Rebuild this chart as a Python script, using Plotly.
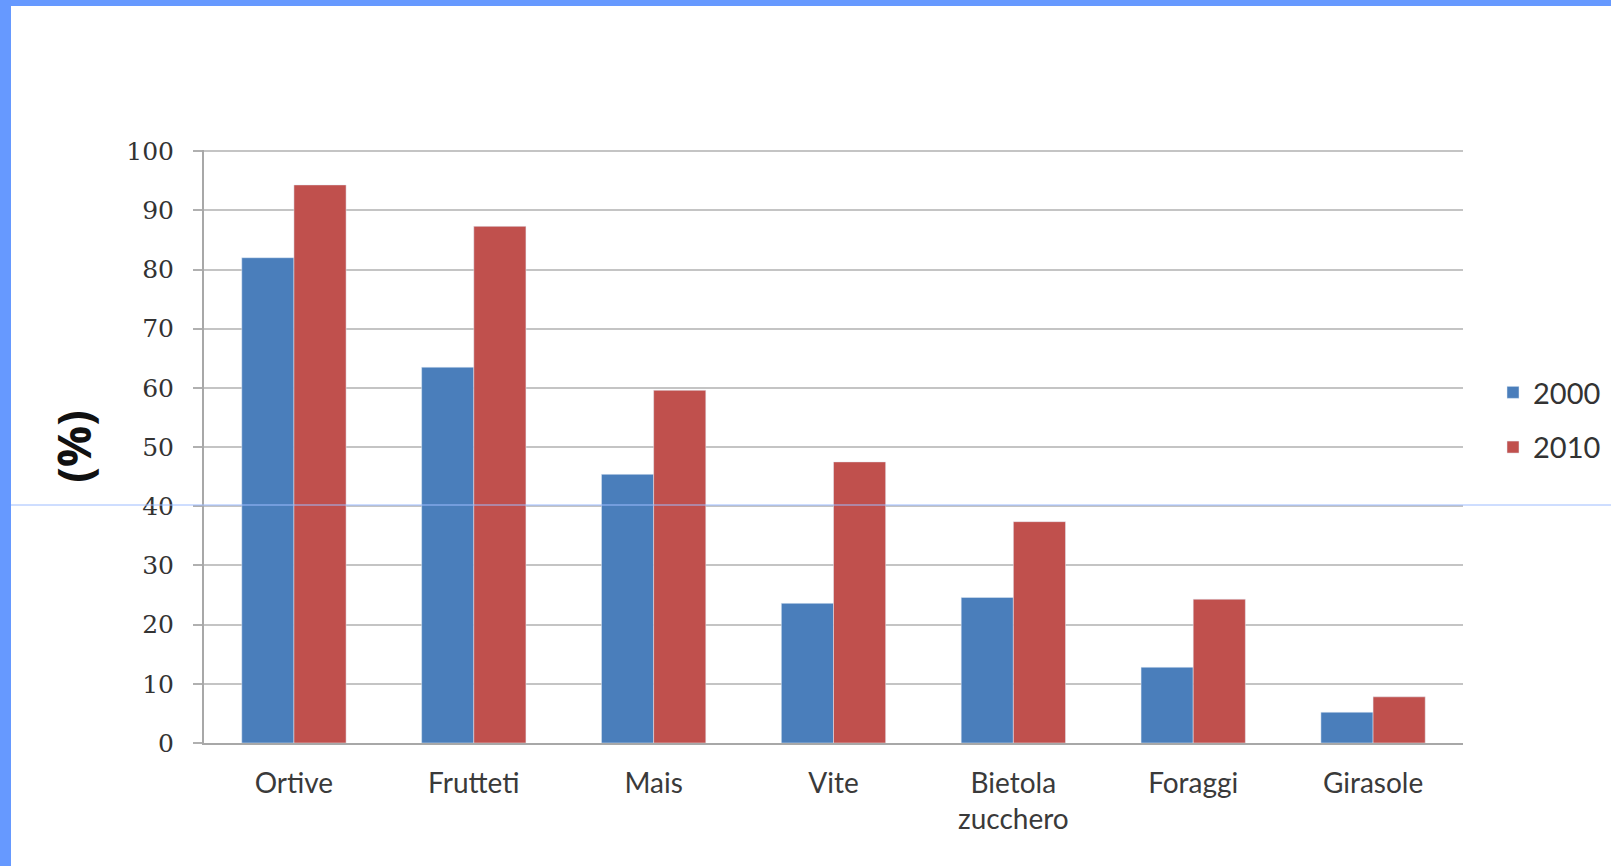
import plotly.graph_objects as go

categories = ["Ortive", "Frutteti", "Mais", "Vite", "Bietola<br>zucchero", "Foraggi", "Girasole"]
values_2000 = [82, 63.5, 45.4, 23.6, 24.6, 12.8, 5.2]
values_2010 = [94.3, 87.3, 59.6, 47.5, 37.4, 24.3, 7.8]
series_names = ["2000", "2010"]
y_ticks = list(range(0, 101, 10))

W, H = 1611, 866
L, R, T, B = 204, 148, 150, 123
pw, ph = W - L - R, H - T - B

def px_x(x):
    return (x - L) / pw

def px_y(y):
    return (H - B - y) / ph

fig = go.Figure()
fig.add_trace(go.Bar(x=categories, y=values_2000, name=series_names[0], marker_color="#4a7ebb",
                     legendgroup="a"))
fig.add_trace(go.Bar(x=categories, y=values_2010, name=series_names[1], marker_color="#c0504d",
                     legendgroup="b"))

frame = "#6699ff"
fig.update_layout(
    width=W, height=H,
    margin=dict(l=L, r=R, t=T, b=B, autoexpand=False),
    paper_bgcolor="white", plot_bgcolor="white",
    barmode="group", bargap=0.42, bargroupgap=0,
    font=dict(family="Lato, 'Open Sans', sans-serif", color="#3a3a3a"),
    xaxis=dict(showgrid=False, showline=True, linecolor="#a8a8a8", linewidth=2,
               tickfont=dict(size=28, color="#3a3a3a"), ticks="", fixedrange=True,
               ticklabelstandoff=14),
    yaxis=dict(range=[0, 100.2], tickvals=y_ticks, showgrid=True, gridcolor="#c4c4c4", gridwidth=2,
               showline=True, linecolor="#a8a8a8", linewidth=2, ticks="outside", ticklen=9,
               tickcolor="#b0b0b0", tickwidth=2, zeroline=False, ticklabelstandoff=14,
               tickfont=dict(size=25, color="#333", family="'DejaVu Serif', serif"),
               title=dict(text="<b>(%)</b>", font=dict(size=46, color="#111", family="'Open Sans', sans-serif"), standoff=20)),
    legend=dict(x=px_x(1493), y=px_y(367), xanchor="left", yanchor="top",
                font=dict(size=29, color="#333", family="Lato, sans-serif"),
                itemwidth=30, tracegroupgap=14, bgcolor="rgba(0,0,0,0)"),
    showlegend=True,
    shapes=[
        dict(type="rect", xref="paper", yref="paper", x0=px_x(0), x1=px_x(11), y0=px_y(H), y1=px_y(0),
             fillcolor=frame, line=dict(width=0), layer="above"),
        dict(type="rect", xref="paper", yref="paper", x0=px_x(0), x1=px_x(W), y0=px_y(6), y1=px_y(0),
             fillcolor=frame, line=dict(width=0), layer="above"),
        dict(type="line", xref="paper", yref="paper", x0=px_x(11), x1=px_x(W), y0=px_y(505), y1=px_y(505),
             line=dict(color="#9dbcff", width=1), layer="above"),
    ],
)

fig.write_html("out.html")
